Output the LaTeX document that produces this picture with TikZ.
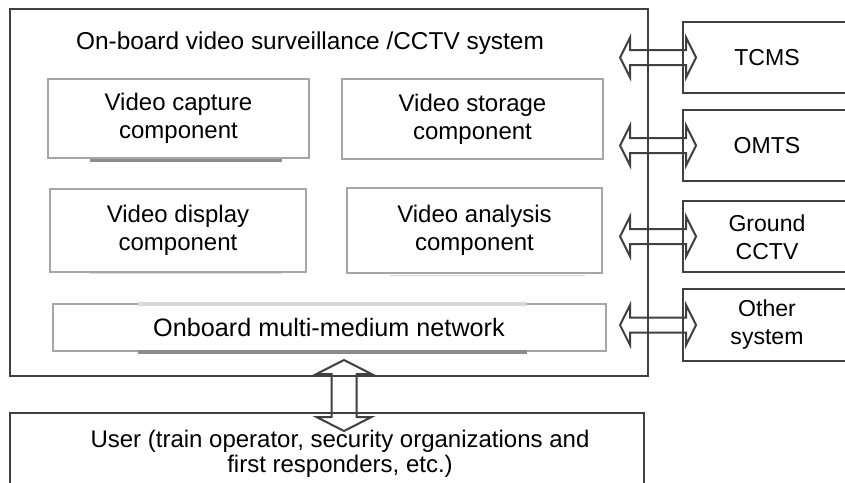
\documentclass[tikz,border=0pt]{standalone}
\usepackage{fontspec}
\setmainfont{Liberation Sans}
\usetikzlibrary{fit,calc}
\definecolor{dark}{HTML}{404040}
\definecolor{light}{HTML}{A6A6A6}
\definecolor{shade}{HTML}{8C8C8C}
\definecolor{glow}{HTML}{DADADA}

% open double-headed block arrows between two tip points
\newcommand\harrow[2]{%
  \draw[bigarrow] (#1) -- ++(10,-20) -- ++(0,12.5) -- ($(#2)+(-10,-7.5)$)
    -- ++(0,-12.5) -- (#2) -- ++(-10,20) -- ++(0,-12.5)
    -- ($(#1)+(10,7.5)$) -- ++(0,12.5) -- cycle;}
\newcommand\varrow[2]{%
  \draw[bigarrow] (#1) -- ++(27.5,14) -- ++(-15,0) -- ($(#2)+(12.5,-14)$)
    -- ++(15,0) -- (#2) -- ++(-27.5,-14) -- ++(15,0)
    -- ($(#1)+(-12.5,14)$) -- ++(-15,0) -- cycle;}

\begin{document}
\begin{tikzpicture}[x=0.75pt,y=-0.75pt,
  outerbox/.style={draw=dark,line width=1.5pt,inner sep=0pt},
  compbox/.style={draw=light,line width=1.1pt,inner sep=0pt},
  comptext/.style={align=center,inner sep=0pt,font=\fontsize{18}{21}\selectfont},
  sidebox/.style={draw=dark,line width=1.5pt,inner sep=0pt},
  sidetext/.style={align=center,inner sep=0pt,font=\fontsize{17.3}{21}\selectfont},
  bigarrow/.style={draw=dark,line width=1.5pt,line join=miter},
  shadowbar/.style={draw=shade,line width=2.4pt},
  glowbar/.style={draw=glow,line width=2.5pt}]

\useasboundingbox (0,0) rectangle (845,482);
\fill[white] (0,0) rectangle (845,482);
\clip (0,0) rectangle (845,482);

% on-board system frame
\node[outerbox,fit={(10,9) (648,376)}] (main) {};
\node[inner sep=0pt,font=\fontsize{18.3}{21}\selectfont] (title) at (310,43)
  {On-board video surveillance /CCTV system};

% components
\draw[shadowbar] (90,160.5) -- (282,160.5);
\draw[draw=glow,line width=1pt] (90,273.5) -- (282,273.5);
\draw[draw=glow,line width=1pt] (390,275.5) -- (585,275.5);
\node[compbox,fit={(48,79) (309,158)}] (capture) {};
\node[compbox,fit={(342,79) (603,159)}] (storage) {};
\node[compbox,fit={(50,189) (306,272)}] (display) {};
\node[compbox,fit={(347,188) (602,273)}] (analysis) {};
\node[comptext] (captureT) at (capture.center) {Video capture\\component};
\node[comptext] (storageT) at (storage.center) {Video storage\\component};
\node[comptext] (displayT) at (display.center) {Video display\\component};
\node[comptext] (analysisT) at (analysis.center) {Video analysis\\component};

\node[compbox,fit={(53,304) (606,351)}] (network) {};
\draw[glowbar] (138,304) -- (527,304);
\draw[shadowbar] (138,352) -- (527,352);
\node[comptext,font=\fontsize{18.9}{21}\selectfont] (networkT) at (329,327.5)
  {Onboard multi-medium network};

% external systems
\node[sidebox,fit={(683,22) (851,93)}] (tcms) {};
\node[sidebox,fit={(683,110) (851,181)}] (omts) {};
\node[sidebox,fit={(683,201) (851,272)}] (gcctv) {};
\node[sidebox,fit={(683,289) (851,361)}] (other) {};
\node[sidetext] (tcmsT) at (767,57.5) {TCMS};
\node[sidetext] (omtsT) at (767,145.5) {OMTS};
\node[sidetext] (gcctvT) at (767,237) {Ground\\CCTV};
\node[sidetext] (otherT) at (767,325) {Other\\system};

% users
\node[outerbox,fit={(10,413) (644,500)}] (user) {};
\node[align=center,inner sep=0pt,font=\fontsize{18}{19}\selectfont] (userT)
  at (340,454) {User (train operator, security organizations and\\first responders, etc.)};

% interfaces
\foreach \b [count=\i] in {tcms,omts,gcctv,other} {
  \coordinate (l\i) at ($(main.east |- \b.west)+(-29,0)$);
  \coordinate (r\i) at ($(\b.west)+(14,0)$);
  \harrow{l\i}{r\i}
}
\coordinate (vtop) at ($(main.south)+(15,-17)$);
\coordinate (vbot) at ($(user.north)+(17,19)$);
\varrow{vtop}{vbot}
\end{tikzpicture}
\end{document}
